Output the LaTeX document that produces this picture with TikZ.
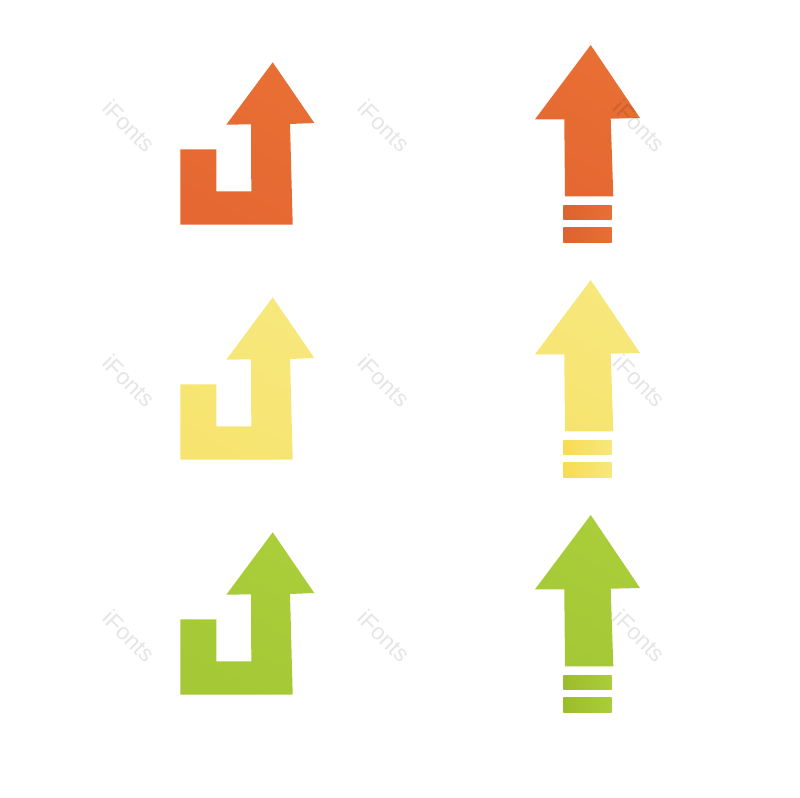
\documentclass[tikz,border=0pt]{standalone}
\usepackage{fontspec}
\setmainfont{Liberation Sans}
\tikzstyle{sheet} = [x = .02cm, y = -.02cm]
\definecolor{orangeTop}{RGB}{232,111,52}
\definecolor{orangeLow}{RGB}{229,104,50}
\definecolor{orangeBar}{RGB}{221,99,47}
\definecolor{yellowTop}{RGB}{247,232,125}
\definecolor{yellowLow}{RGB}{247,228,112}
\definecolor{yellowBar}{RGB}{248,219,80}
\definecolor{greenTop}{RGB}{170,205,58}
\definecolor{greenLow}{RGB}{165,200,54}
\definecolor{greenBar}{RGB}{157,188,44}
\tikzstyle{waterMark} = [font=\fontsize{13}{13}\selectfont, text=black, text opacity=.1, rotate=-45, inner sep=0pt]
\newcommand{\turnArrow}[2]{\shade [top color=#2Top, bottom color=#2Low, shading angle=-30] (272.7, #1 + 62.3) -- (314.3, #1 + 123) -- (290, #1 + 124) -- (292.7, #1 + 224.6) -- (180.3, #1 + 224.6) -- (180.3, #1 + 149.3) -- (216.3, #1 + 149.3) -- (216.3, #1 + 191.3) -- (251.3, #1 + 191.3) -- (251, #1 + 124.3) -- (226.3, #1 + 124.7) -- cycle;}
\newcommand{\upArrow}[2]{\shade [top color=#2Top, bottom color=#2Low, shading angle=-30] (590.7, #1 + 45) -- (640, #1 + 118) -- (610.7, #1 + 118.7) -- (613.3, #1 + 196.3) -- (565, #1 + 196.3) -- (564.3, #1 + 119.3) -- (535, #1 + 119.3) -- cycle;}
\newcommand{\upBars}[2]{
  \shade [left color=#2Bar, right color=#2Top] (563.3, #1 + 205) rectangle (611.7, #1 + 219.3);
  \shade [left color=#2Bar, right color=#2Top] (563.3, #1 + 227.7) rectangle (611.7, #1 + 242.3);
}
\begin{document}
\begin{tikzpicture}[sheet]
  \useasboundingbox (0,0) rectangle (800,797);
  \turnArrow{0}{orange}
  \upArrow{0}{orange}
  \upBars{0}{orange}
  \turnArrow{235}{yellow}
  \upArrow{235}{yellow}
  \upBars{235}{yellow}
  \turnArrow{470}{green}
  \upArrow{470}{green}
  \upBars{470}{green}
  \foreach \row/\rowY in {a/126,b/381,c/636} {
    \foreach \column/\columnX in {l/129,m/384,r/639.5} {
      \node [waterMark] (mark\row\column) at (\columnX,\rowY) {iFonts};
    }
  }
\end{tikzpicture}
\end{document}
